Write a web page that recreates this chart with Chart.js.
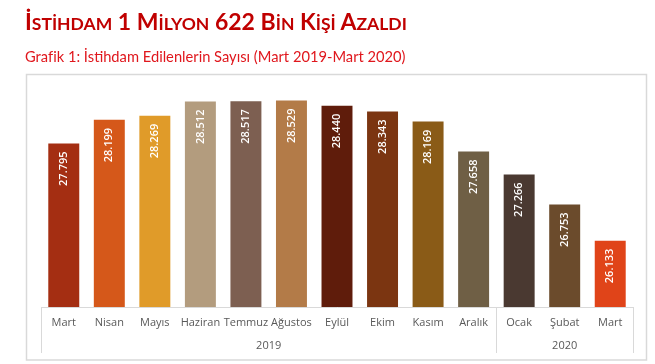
<!DOCTYPE html>
<html lang="tr">
<head>
<meta charset="utf-8">
<script src="https://cdn.jsdelivr.net/npm/chart.js@4.4.1/dist/chart.umd.min.js"></script>
<style>
  html, body { margin: 0; padding: 0; background: #fff; }
  #wrap { position: relative; width: 655px; height: 364px; overflow: hidden; }
  #c { position: absolute; left: 0; top: 0; }
  #title { position: absolute; left: 25px; top: 7px; font-family: Lato, "Open Sans", sans-serif; font-weight: 700; color: #C00000; font-size: 23px; line-height: 28px; white-space: nowrap; }
  #title .s { font-size: 17.5px; }
  #sub { position: absolute; left: 25px; top: 46px; font-family: Lato, "Open Sans", sans-serif; color: #E0171D; font-size: 14.7px; line-height: 20px; white-space: nowrap; }
</style>
</head>
<body>
<div id="wrap">
  <canvas id="c" width="655" height="364"></canvas>
  <div id="title">İ<span class="s">STİHDAM</span> 1 M<span class="s">İLYON</span> 622 B<span class="s">İN</span> K<span class="s">İŞİ</span> A<span class="s">ZALDI</span></div>
  <div id="sub">Grafik 1: İstihdam Edilenlerin Sayısı (Mart 2019-Mart 2020)</div>
</div>
<script>
const months = ['Mart','Nisan','Mayıs','Haziran','Temmuz','Ağustos','Eylül','Ekim','Kasım','Aralık','Ocak','Şubat','Mart'];
const employed = [27.795, 28.199, 28.269, 28.512, 28.517, 28.529, 28.440, 28.343, 28.169, 27.658, 27.266, 26.753, 26.133];
const barColors = ['#A42E12','#D5581A','#E09B29','#B39C7E','#7D5F51','#B37B48','#5F1C0B','#7B3511','#8A5B17','#6F5F45','#4A3931','#6B4B2C','#E04419'];
const years = ['2019','2020'];
const yearStart = [0, 10];
const yearEnd = [9, 12];
const yMin = 25, yMax = 29;

const decor = {
  id: 'decor',
  beforeDraw(chart) {
    const ctx = chart.ctx;
    ctx.save();
    ctx.strokeStyle = '#D9D9D9';
    ctx.lineWidth = 1.5;
    ctx.strokeRect(26.5, 74.5, 620, 285.5);
    ctx.restore();
  },
  afterDraw(chart) {
    const ctx = chart.ctx;
    const x = chart.scales.x;
    const area = chart.chartArea;
    const half = (x.getPixelForValue(1) - x.getPixelForValue(0)) / 2;
    ctx.save();
    ctx.strokeStyle = '#D9D9D9';
    ctx.lineWidth = 1;
    const bounds = [area.left];
    for (let g = 0; g < years.length; g++) bounds.push(x.getPixelForValue(yearEnd[g]) + half);
    bounds[bounds.length - 1] = area.right;
    bounds.forEach(b => {
      const bx = Math.round(b) + 0.5;
      ctx.beginPath(); ctx.moveTo(bx, area.bottom); ctx.lineTo(bx, area.bottom + 46); ctx.stroke();
    });
    ctx.fillStyle = '#595959';
    ctx.font = '11px "Open Sans"';
    ctx.textAlign = 'center';
    ctx.textBaseline = 'middle';
    for (let g = 0; g < years.length; g++) {
      const cx = (x.getPixelForValue(yearStart[g]) + x.getPixelForValue(yearEnd[g])) / 2;
      ctx.fillText(years[g], cx, area.bottom + 39);
    }
    const meta = chart.getDatasetMeta(0);
    ctx.fillStyle = '#FFFFFF';
    ctx.font = '600 11px "Open Sans"';
    ctx.textAlign = 'right';
    ctx.textBaseline = 'middle';
    meta.data.forEach((bar, i) => {
      ctx.save();
      ctx.translate(bar.x, bar.y + 8);
      ctx.rotate(-Math.PI / 2);
      ctx.fillText(employed[i].toFixed(3), 0, 0);
      ctx.restore();
    });
    ctx.restore();
  }
};

new Chart(document.getElementById('c'), {
  type: 'bar',
  data: {
    labels: months,
    datasets: [{ data: employed, backgroundColor: barColors, borderWidth: 0, categoryPercentage: 1, barPercentage: 0.68 }]
  },
  options: {
    responsive: false,
    animation: false,
    devicePixelRatio: 1,
    layout: { padding: { left: 41, right: 22, top: 73, bottom: 0 } },
    plugins: { legend: { display: false }, tooltip: { enabled: false }, title: { display: false } },
    scales: {
      y: { display: false, min: yMin, max: yMax },
      x: {
        grid: { display: false, drawTicks: false },
        border: { display: true, color: '#D9D9D9', width: 1 },
        ticks: { color: '#595959', font: { family: 'Open Sans', size: 11 }, padding: 9, maxRotation: 0, autoSkip: false },
        afterFit(scale) { scale.height = 57; }
      }
    }
  },
  plugins: [decor]
});
</script>
</body>
</html>
